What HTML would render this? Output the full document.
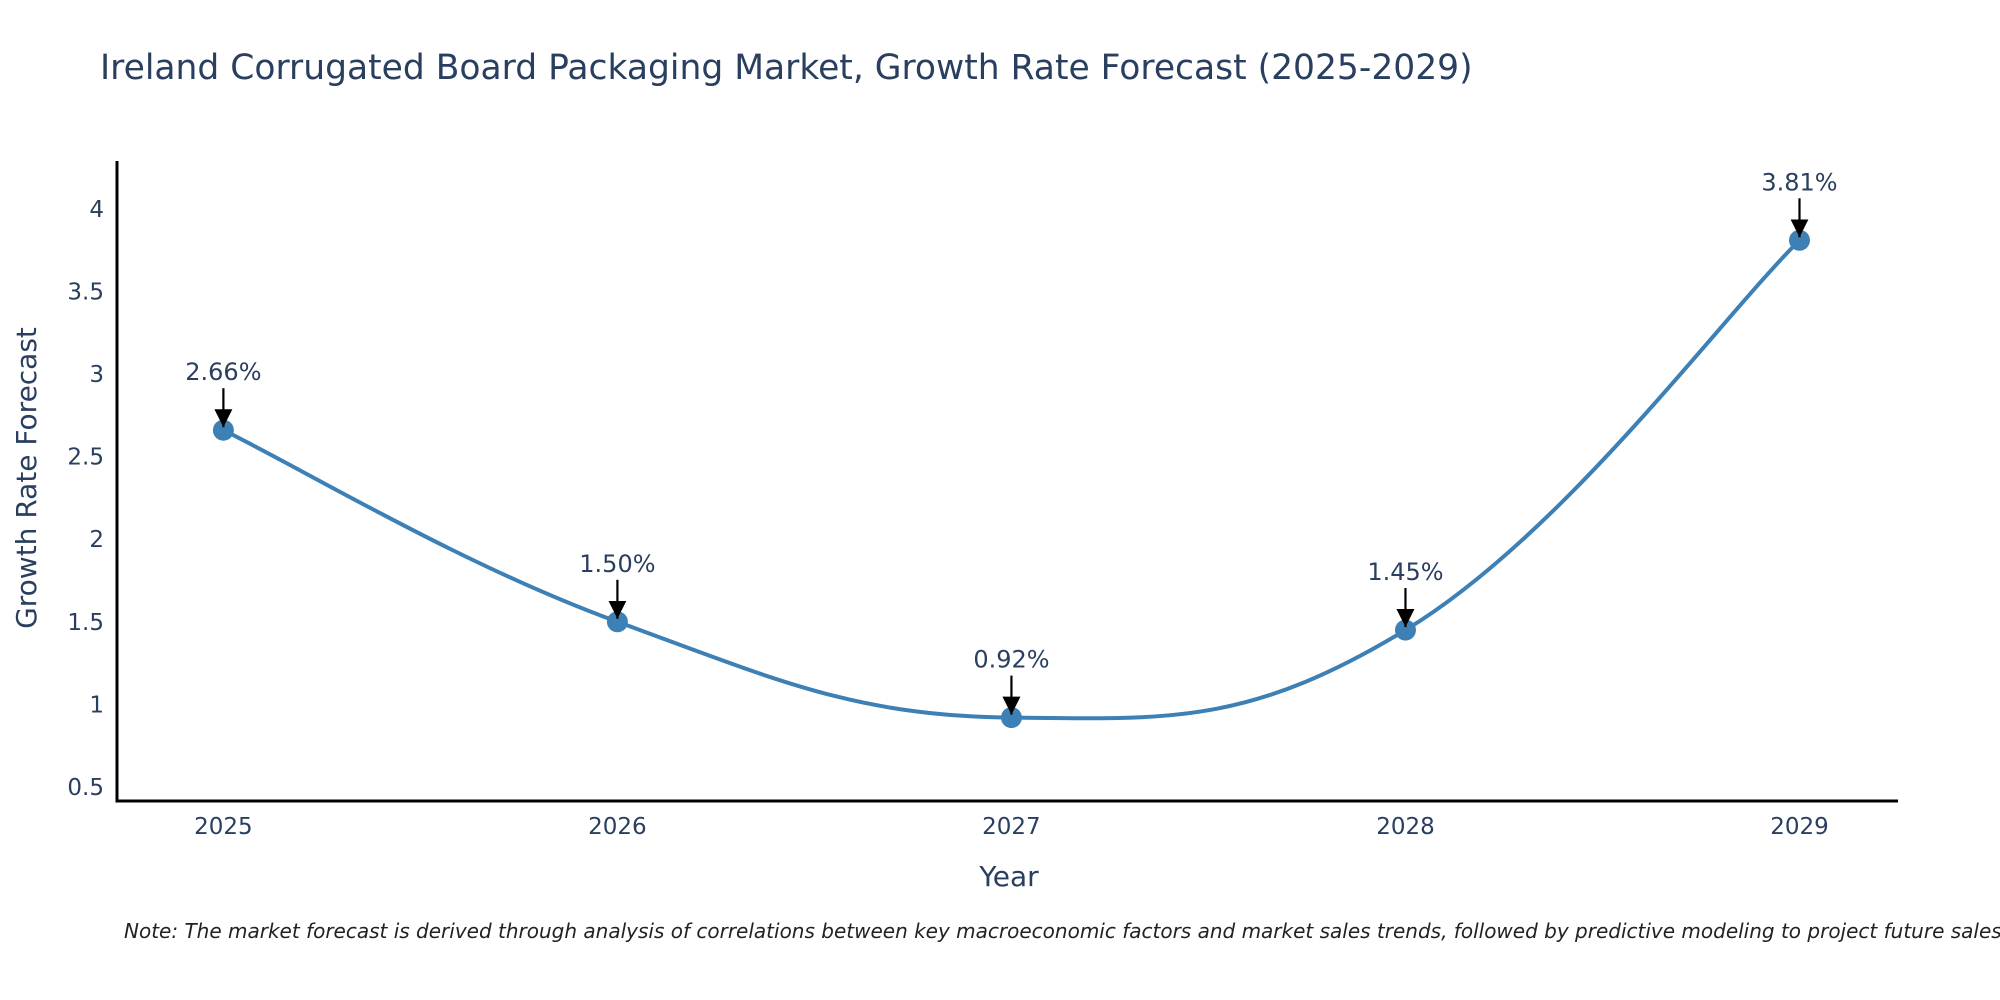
<!DOCTYPE html>
<html><head><meta charset="utf-8"><style>
body{margin:0;background:#fff;}
svg{display:block;font-family:"DejaVu Sans","Liberation Sans",sans-serif;}
</style></head><body>
<svg id="chart" width="2000" height="1000" viewBox="0 0 2000 1000" xmlns="http://www.w3.org/2000/svg">
<text x="100" y="79" font-size="34.5" fill="#2a3f5f">Ireland Corrugated Board Packaging Market, Growth Rate Forecast (2025-2029)</text>
<g id="plot"></g>
<text x="1009" y="886" font-size="28" fill="#2a3f5f" text-anchor="middle">Year</text>
<text transform="translate(36,478) rotate(-90)" font-size="28" fill="#2a3f5f" text-anchor="middle">Growth Rate Forecast</text>
<text x="124" y="938" font-size="20" font-style="italic" fill="#222">Note: The market forecast is derived through analysis of correlations between key macroeconomic factors and market sales trends, followed by predictive modeling to project future sales.</text>
</svg>
<script>
const years = [2025, 2026, 2027, 2028, 2029];
const values = [2.66, 1.50, 0.92, 1.45, 3.81];
const labels = ["2.66%", "1.50%", "0.92%", "1.45%", "3.81%"];
const yTicks = [0.5, 1, 1.5, 2, 2.5, 3, 3.5, 4];
const yTickLabels = ["0.5", "1", "1.5", "2", "2.5", "3", "3.5", "4"];

const L=117,R=1898,T=161,B=801;
const xMin=2024.73,xMax=2029.25,yMin=0.415,yMax=4.29;
const xs=v=>L+(v-xMin)/(xMax-xMin)*(R-L);
const ys=v=>B-(v-yMin)/(yMax-yMin)*(B-T);
const NS="http://www.w3.org/2000/svg";
const g=document.getElementById('plot');
function mk(tag,attrs,parent){const e=document.createElementNS(NS,tag);for(const k in attrs)e.setAttribute(k,attrs[k]);(parent||g).appendChild(e);return e;}

const defs=mk('defs',{});
const m=mk('marker',{id:'ah',viewBox:'0 0 10 10',refX:'10',refY:'5',markerWidth:'7',markerHeight:'7',markerUnits:'userSpaceOnUse',orient:'auto'},defs);
m.setAttribute('markerWidth','18');
m.setAttribute('markerHeight','18');
mk('path',{d:'M0,0 L10,5 L0,10 z',fill:'#000'},m);

const ya=mk('line',{x1:L,y1:T,x2:L,y2:B,stroke:'#000','stroke-width':3});


const xa=mk('line',{x1:L-1.5,y1:B,x2:R,y2:B,stroke:'#000','stroke-width':3});



yTicks.forEach((t,i)=>{
  const tx=mk('text',{x:L-13,y:ys(t)+8,'font-size':23,fill:'#2a3f5f','text-anchor':'end'});
  tx.textContent=yTickLabels[i];
  
  
});
years.forEach(y=>{
  const tx=mk('text',{x:xs(y),y:834,'font-size':23,fill:'#2a3f5f','text-anchor':'middle'});
  tx.textContent=String(y);
  
  
});

const P=years.map((y,i)=>[xs(y),ys(values[i])]);
let d=`M${P[0][0]},${P[0][1]}`;
const s=0.2;
for(let i=0;i<P.length-1;i++){
  const p0=P[Math.max(0,i-1)],p1=P[i],p2=P[i+1],p3=P[Math.min(P.length-1,i+2)];
  const c1=[p1[0]+(p2[0]-p0[0])*s,p1[1]+(p2[1]-p0[1])*s];
  const c2=[p2[0]-(p3[0]-p1[0])*s,p2[1]-(p3[1]-p1[1])*s];
  d+=` C${c1[0]},${c1[1]} ${c2[0]},${c2[1]} ${p2[0]},${p2[1]}`;
}
const line=mk('path',{d:d,fill:'none',stroke:'#3d80b5','stroke-width':4});



P.forEach((p,i)=>{
  const c=mk('circle',{cx:p[0],cy:p[1],r:10.5,fill:'#3d80b5'});
  
  
  const a=mk('line',{x1:p[0],y1:p[1]-42,x2:p[0],y2:p[1]-3,stroke:'#000','stroke-width':2.2,'marker-end':'url(#ah)'});
  
  
  const t=mk('text',{x:p[0],y:p[1]-50,'font-size':24,fill:'#2a3f5f','text-anchor':'middle'});
  t.textContent=labels[i];
  
  
});
</script>
</body></html>
